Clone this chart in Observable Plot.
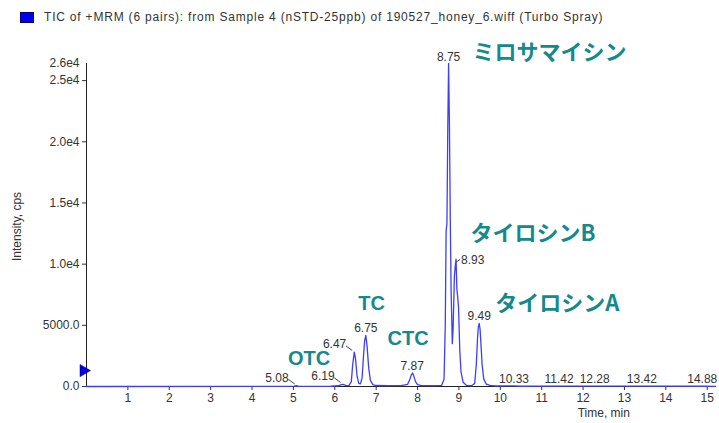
<!DOCTYPE html>
<html><head><meta charset="utf-8">
<script src="https://cdn.jsdelivr.net/npm/d3@7"></script>
<script src="https://cdn.jsdelivr.net/npm/@observablehq/plot@0.6"></script>
<style>
body{margin:0;background:#fff;width:719px;height:423px;overflow:hidden;position:relative;font-family:"Liberation Sans",Arial,sans-serif}
#chart{position:absolute;left:0;top:0}
#title{position:absolute;left:20px;top:10px;font-size:12px;letter-spacing:0.8px;color:#333;display:flex;align-items:center;white-space:nowrap}
#title .sw{display:inline-block;width:12px;height:9px;background:#0000f0;border:1px solid #00007a;margin-right:10px}
</style></head><body>
<div id="chart"></div>
<div id="title"><span class="sw"></span><span id="ttext"></span></div>
<script>
// ---- data ----
const titleText = "TIC of +MRM (6 pairs): from Sample 4 (nSTD-25ppb) of 190527_honey_6.wiff (Turbo Spray)";
const times = [0, 4.9, 5.02, 5.08, 5.14, 5.9, 6.08, 6.16, 6.2, 6.26, 6.34, 6.4, 6.43, 6.47, 6.5, 6.54, 6.58, 6.62, 6.66, 6.69, 6.72, 6.75, 6.78, 6.82, 6.86, 6.92, 7.0, 7.3, 7.6, 7.76, 7.81, 7.85, 7.88, 7.91, 7.95, 8.0, 8.1, 8.4, 8.58, 8.64, 8.67, 8.69, 8.71, 8.73, 8.75, 8.77, 8.79, 8.81, 8.84, 8.86, 8.89, 8.91, 8.93, 8.95, 8.97, 8.99, 9.02, 9.05, 9.1, 9.18, 9.3, 9.38, 9.42, 9.45, 9.47, 9.49, 9.51, 9.53, 9.56, 9.6, 9.66, 9.75, 9.9, 10.33, 10.5, 11.42, 12.28, 13.42, 14.88, 15.2];
const intensity = [0, 10, 30, 60, 15, 20, 60, 150, 180, 90, 70, 400, 1700, 2800, 2300, 800, 250, 220, 700, 2300, 3700, 4170, 3300, 1500, 500, 150, 80, 60, 70, 180, 550, 950, 1100, 850, 400, 150, 70, 60, 90, 600, 5000, 12700, 13300, 21000, 26400, 21500, 14000, 8000, 3500, 4800, 9000, 9800, 10400, 8000, 7300, 6500, 3000, 1200, 350, 100, 60, 250, 1800, 4000, 4900, 5150, 4700, 3600, 1800, 600, 200, 90, 40, 50, 20, 25, 25, 30, 20, 15];
const peakTimes = [5.08, 6.19, 6.47, 6.75, 7.87, 8.75, 8.93, 9.49, 10.33, 11.42, 12.28, 13.42, 14.88];
const peakHeights = [60, 180, 2800, 4170, 1100, 26400, 10400, 5150, 50, 25, 25, 30, 20];
const peakTexts = ["5.08", "6.19", "6.47", "6.75", "7.87", "8.75", "8.93", "9.49", "10.33", "11.42", "12.28", "13.42", "14.88"];
const compoundNames = ["ミロサマイシン", "タイロシンB", "タイロシンA", "TC", "CTC", "OTC"];
const xTicks = [1, 2, 3, 4, 5, 6, 7, 8, 9, 10, 11, 12, 13, 14, 15];
const yTicks = [0, 5000, 10000, 15000, 20000, 25000];
const yTickLabels = ["0.0", "5000.0", "1.0e4", "1.5e4", "2.0e4", "2.5e4"];
const yMax = 26400;
const yMaxLabel = "2.6e4";
const markerLevel = 1300;

// ---- build ----
document.getElementById("ttext").textContent = titleText;
const chrom = times.map((t, i) => ({t, I: intensity[i]}));
const peaks = peakTimes.map((t, i) => ({t, I: peakHeights[i], label: peakTexts[i]}));
const leftSet = new Set(["5.08", "6.19", "6.47"]);
const rightSet = new Set(["8.93"]);
const leftPeaks = peaks.filter(d => leftSet.has(d.label));
const rightPeaks = peaks.filter(d => rightSet.has(d.label));
const midPeaks = peaks.filter(d => !leftSet.has(d.label) && !rightSet.has(d.label));
const yLab = new Map(yTicks.map((v, i) => [v, yTickLabels[i]]));

// annotation placement (layout)
const cjk = [
  {name: compoundNames[0], t: 9.33, I: 27300},
  {name: compoundNames[1], t: 9.28, I: 12500},
  {name: compoundNames[2], t: 9.88, I: 6780}
];
const latin = [
  {name: compoundNames[3], t: 6.89, I: 6780},
  {name: compoundNames[4], t: 7.77, I: 3920},
  {name: compoundNames[5], t: 5.38, I: 2300}
];
const teal = "#148a8d";
const txt = "#333";
const font = "Liberation Sans, Arial, sans-serif";

const plot = Plot.plot({
  width: 719, height: 423,
  marginLeft: 86, marginRight: 4, marginTop: 63, marginBottom: 37,
  x: {domain: [0, 15.2]},
  y: {domain: [0, yMax]},
  style: {fontFamily: font, fontSize: "12px", color: txt, background: "white", overflow: "visible"},
  marks: [
    Plot.axisX({ticks: xTicks, tickSize: 4, tickPadding: 3, label: null, fontSize: 12, tickFormat: d => String(d)}),
    Plot.axisY({ticks: yTicks, tickFormat: d => yLab.get(d), tickSize: 4, tickPadding: 3, label: null, fontSize: 12, letterSpacing: 0.8}),
    Plot.axisY({ticks: [yMax], tickFormat: () => yMaxLabel, tickSize: 0, tickPadding: 7, label: null, fontSize: 12, letterSpacing: 0.8}),
    Plot.ruleY([0], {stroke: "#222"}),
    Plot.ruleX([0], {stroke: "#222"}),
    Plot.line(chrom, {x: "t", y: "I", stroke: "#3d3dff", strokeWidth: 1.3}),
    Plot.dot([markerLevel], {x: 0, y: d => d, symbol: "triangle", rotate: 90, r: 4.5, fill: "#0000e0", stroke: "#000080", strokeWidth: 0.5, dx: -3}),
    Plot.text(midPeaks, {x: "t", y: "I", text: "label", lineAnchor: "bottom", dy: -3, fontSize: 12, letterSpacing: 0.6, fill: txt}),
    Plot.text(leftPeaks, {x: "t", y: "I", text: "label", lineAnchor: "bottom", textAnchor: "end", dx: -8, dy: -4, fontSize: 12, letterSpacing: 0.6, fill: txt}),
    Plot.link(leftPeaks, {x1: d => d.t - 0.05, y1: d => d.I + 150, x2: d => d.t - 0.2, y2: d => d.I + 520, stroke: "#444", strokeWidth: 1}),
    Plot.text(rightPeaks, {x: "t", y: "I", text: "label", lineAnchor: "middle", textAnchor: "start", dx: 5, dy: 1, fontSize: 12, letterSpacing: 0.6, fill: txt}),
    Plot.link(rightPeaks, {x1: d => d.t, y1: d => d.I - 250, x2: d => d.t + 0.1, y2: d => d.I, stroke: "#444", strokeWidth: 1}),
    Plot.text(cjk, {x: "t", y: "I", text: "name", textAnchor: "start", lineAnchor: "middle", fontSize: 22, fontWeight: "bold", fontFamily: "Noto Sans CJK JP", fill: teal}),
    Plot.text(latin, {x: "t", y: "I", text: "name", textAnchor: "middle", lineAnchor: "middle", fontSize: 20, letterSpacing: 1.2, fontWeight: "bold", fontFamily: "Liberation Sans", fill: teal}),
    Plot.text(["Intensity, cps"], {x: 0, y: 13080, rotate: -90, dx: -69, fontSize: 12, letterSpacing: 0.8, fill: txt}),
    Plot.text(["Time, min"], {x: 12.5, frameAnchor: "bottom", dy: 30, fontSize: 12, letterSpacing: 0.8, fill: txt})
  ]
});
document.getElementById("chart").appendChild(plot);
</script>
</body></html>
